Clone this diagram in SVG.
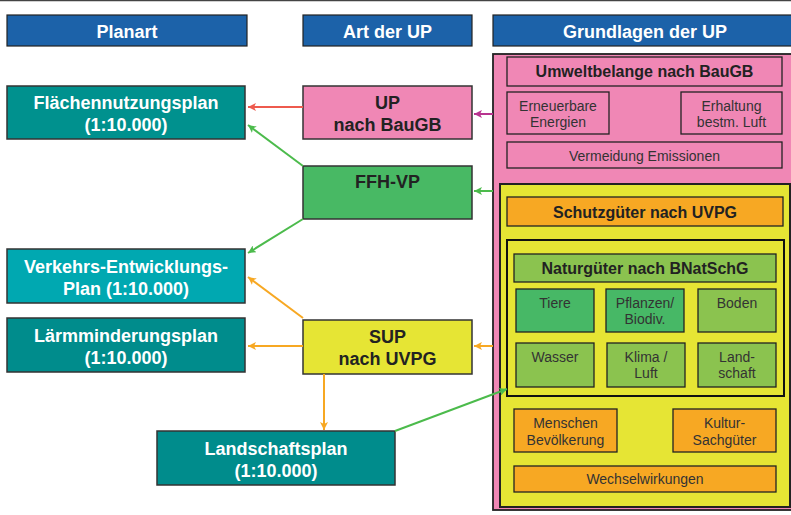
<svg xmlns="http://www.w3.org/2000/svg" width="791" height="515" viewBox="0 0 791 515">
<style>
text{font-family:"Liberation Sans",Arial,sans-serif;text-anchor:middle}
.hd rect{fill:#1C62A9;stroke:#222;stroke-width:1.2}
.hd text{fill:#fff;font-size:18px;font-weight:bold}
.pl rect{stroke:#333;stroke-width:1.5}
.pl text{fill:#fff;font-size:18px;font-weight:bold}
.up rect{stroke:#333;stroke-width:1.5}
.up text{fill:#222;font-size:18px;font-weight:bold}
.b rect{stroke:#222;stroke-width:1.3}
.b text{fill:#333;font-size:14px}
.t text{fill:#222;font-size:16px;font-weight:bold}
.c line{stroke-width:2;fill:none}
</style>
<defs>
<marker id="aR" markerUnits="userSpaceOnUse" markerWidth="9" markerHeight="8" refX="8" refY="4" orient="auto"><path d="M0,0 L8,4 L0,8 L2,4 z" fill="#EE5A4E"/></marker>
<marker id="aM" markerUnits="userSpaceOnUse" markerWidth="9" markerHeight="8" refX="8" refY="4" orient="auto"><path d="M0,0 L8,4 L0,8 L2,4 z" fill="#B8338F"/></marker>
<marker id="aG" markerUnits="userSpaceOnUse" markerWidth="9" markerHeight="8" refX="8" refY="4" orient="auto"><path d="M0,0 L8,4 L0,8 L2,4 z" fill="#4CBB4C"/></marker>
<marker id="aO" markerUnits="userSpaceOnUse" markerWidth="9" markerHeight="8" refX="8" refY="4" orient="auto"><path d="M0,0 L8,4 L0,8 L2,4 z" fill="#F7A823"/></marker>
</defs>
<rect x="0" y="0" width="791" height="515" fill="#fff"/>
<line x1="0" y1="0.5" x2="791" y2="0.5" stroke="#444" stroke-width="1.5"/>

<g id="h-planart" class="hd"><rect x="7" y="15" width="240" height="31"/><text x="127" y="38">Planart</text></g>
<g id="h-art" class="hd"><rect x="303" y="15" width="169" height="31"/><text x="387.5" y="38">Art der UP</text></g>
<g id="h-grundlagen" class="hd"><rect x="493" y="15" width="300" height="31"/><text x="645" y="38">Grundlagen der UP</text></g>

<g id="fnp" class="pl"><rect x="7" y="86" width="238" height="53" fill="#00918E"/><text x="126" y="109">Flächennutzungsplan</text><text x="126" y="131">(1:10.000)</text></g>
<g id="vep" class="pl"><rect x="7" y="249" width="238" height="54" fill="#00A8B1"/><text x="126" y="273">Verkehrs-Entwicklungs-</text><text x="126" y="295">Plan (1:10.000)</text></g>
<g id="lmp" class="pl"><rect x="7" y="318" width="238" height="54" fill="#008C8C"/><text x="126" y="342">Lärmminderungsplan</text><text x="126" y="364">(1:10.000)</text></g>
<g id="lsp" class="pl"><rect x="157" y="431" width="238" height="54" fill="#008C8C"/><text x="276" y="455">Landschaftsplan</text><text x="276" y="477">(1:10.000)</text></g>

<g id="up" class="up"><rect x="303" y="86" width="169" height="53" fill="#F087B5"/><text x="387.5" y="109">UP</text><text x="387.5" y="131">nach BauGB</text></g>
<g id="ffh" class="up"><rect x="303" y="166" width="169" height="53" fill="#48B964"/><text x="387.5" y="188">FFH-VP</text></g>
<g id="sup" class="up"><rect x="303" y="320" width="169" height="54" fill="#E6E534"/><text x="387.5" y="343">SUP</text><text x="387.5" y="365">nach UVPG</text></g>

<g id="grundlagen">
<rect x="493" y="54" width="302" height="456" fill="#F087B5" stroke="#222" stroke-width="1.8"/>
<g id="umwelt" class="b t"><rect x="507" y="57" width="275" height="29" fill="#F087B5"/><text x="644.5" y="77">Umweltbelange nach BauGB</text></g>
<g id="erneuerbar" class="b"><rect x="507" y="92" width="102" height="42" fill="#F087B5"/><text x="558" y="111">Erneuerbare</text><text x="558" y="127">Energien</text></g>
<g id="erhaltung" class="b"><rect x="681" y="92" width="101" height="42" fill="#F087B5"/><text x="731.5" y="111">Erhaltung</text><text x="731.5" y="127">bestm. Luft</text></g>
<g id="vermeidung" class="b"><rect x="507" y="142" width="275" height="26" fill="#F087B5"/><text x="644.5" y="161">Vermeidung Emissionen</text></g>

<rect x="500" y="184" width="290" height="323" fill="#E6E534" stroke="#222" stroke-width="2"/>
<g id="schutz" class="b t"><rect x="507" y="197" width="276" height="29" fill="#F7A823"/><text x="645" y="218">Schutzgüter nach UVPG</text></g>
<rect x="507" y="240" width="277" height="156" fill="#E6E534" stroke="#111" stroke-width="2"/>
<g id="natur" class="b t"><rect x="514" y="254" width="262" height="28" fill="#8BC34F"/><text x="645" y="274">Naturgüter nach BNatSchG</text></g>
<g id="tiere" class="b"><rect x="516" y="289" width="78" height="43" fill="#47B866"/><text x="555" y="308">Tiere</text></g>
<g id="pflanzen" class="b"><rect x="606" y="289" width="78" height="43" fill="#47B866"/><text x="645" y="308">Pflanzen/</text><text x="645" y="324">Biodiv.</text></g>
<g id="boden" class="b"><rect x="698" y="289" width="78" height="43" fill="#8BC34F"/><text x="737" y="308">Boden</text></g>
<g id="wasser" class="b"><rect x="516" y="343" width="78" height="44" fill="#8BC34F"/><text x="555" y="362">Wasser</text></g>
<g id="klima" class="b"><rect x="607" y="343" width="78" height="44" fill="#8BC34F"/><text x="646" y="362">Klima /</text><text x="646" y="378">Luft</text></g>
<g id="landschaft" class="b"><rect x="698" y="343" width="78" height="44" fill="#8BC34F"/><text x="737" y="362">Land-</text><text x="737" y="378">schaft</text></g>
<g id="menschen" class="b"><rect x="514" y="409" width="103" height="43" fill="#F7A823"/><text x="565.5" y="428">Menschen</text><text x="565.5" y="445">Bevölkerung</text></g>
<g id="kultur" class="b"><rect x="673" y="409" width="103" height="43" fill="#F7A823"/><text x="724.5" y="428">Kultur-</text><text x="724.5" y="445">Sachgüter</text></g>
<g id="wechsel" class="b"><rect x="514" y="466" width="262" height="26" fill="#F7A823"/><text x="645" y="484">Wechselwirkungen</text></g>
</g>

<g id="connectors" class="c">
<line x1="303" y1="107" x2="248" y2="107" stroke="#EE5A4E" marker-end="url(#aR)"/>
<line x1="493" y1="114" x2="474" y2="114" stroke="#B8338F" marker-end="url(#aM)"/>
<line x1="493" y1="191" x2="474" y2="191" stroke="#4CBB4C" marker-end="url(#aG)"/>
<line x1="303" y1="166" x2="248" y2="125" stroke="#4CBB4C" marker-end="url(#aG)"/>
<line x1="303" y1="219" x2="248" y2="253" stroke="#4CBB4C" marker-end="url(#aG)"/>
<line x1="303" y1="318" x2="248" y2="277" stroke="#F7A823" marker-end="url(#aO)"/>
<line x1="303" y1="346" x2="248" y2="346" stroke="#F7A823" marker-end="url(#aO)"/>
<line x1="493" y1="346" x2="474" y2="346" stroke="#F7A823" marker-end="url(#aO)"/>
<line x1="324" y1="374" x2="324" y2="430" stroke="#F7A823" marker-end="url(#aO)"/>
<line x1="395" y1="431" x2="507" y2="389" stroke="#4CBB4C" marker-end="url(#aG)"/>
</g>
</svg>
